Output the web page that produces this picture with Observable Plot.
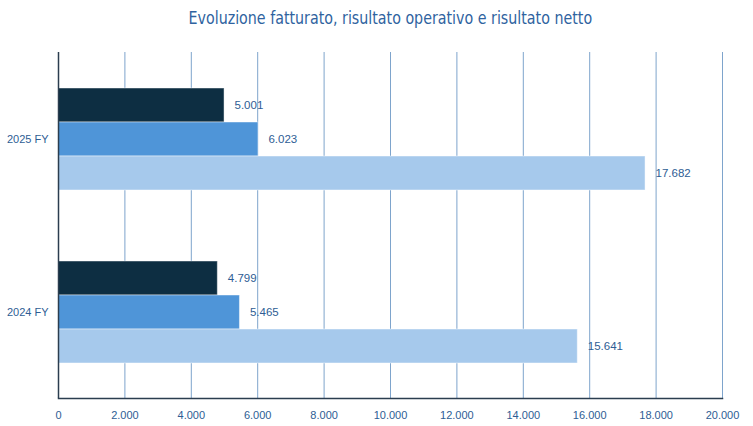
<!DOCTYPE html>
<html>
<head>
<meta charset="utf-8">
<script src="https://cdn.jsdelivr.net/npm/d3@7"></script>
<script src="https://cdn.jsdelivr.net/npm/@observablehq/plot@0.6"></script>
<style>
  html, body { margin: 0; padding: 0; background: #fff; }
  #title {
    box-sizing: border-box;
    width: 753px; height: 40px;
    padding: 8px 31px 0 58px;
    text-align: center;
    font-family: "Liberation Sans Narrow", "DejaVu Sans Condensed", "Liberation Sans", sans-serif;
    font-size: 18px; line-height: 20px;
    color: #2f63a0;
  }
  #title span { display: inline-block; transform: scaleX(0.88); transform-origin: center; }
  #chart svg { display: block; }
</style>
</head>
<body>
<div id="title"><span>Evoluzione fatturato, risultato operativo e risultato netto</span></div>
<div id="chart"></div>
<script>
const years = ["2025 FY", "2024 FY"];
const series = ["Risultato netto", "Risultato operativo", "Fatturato"];
const colors = ["#0d2e42", "#4f95d8", "#a6c9ec"];
const values2025 = [5001, 6023, 17682];
const values2024 = [4799, 5465, 15641];
const xTicks = [0, 2000, 4000, 6000, 8000, 10000, 12000, 14000, 16000, 18000, 20000];

const valuesByYear = {"2025 FY": values2025, "2024 FY": values2024};
const data = years.flatMap(y => series.map((s, i) => ({year: y, series: s, value: valuesByYear[y][i]})));

const it = d3.formatLocale({decimal: ",", thousands: ".", grouping: [3], currency: ["€", ""]});
const fmt = it.format(",d");
const labelColor = "#2e5d94";

const chart = Plot.plot({
  width: 753,
  height: 386,
  marginTop: 12,
  marginBottom: 28,
  marginLeft: 58,
  marginRight: 31,
  style: {fontFamily: "Liberation Sans, Arial, sans-serif", fontSize: "11px", color: labelColor, background: "#fff"},
  x: {domain: [0, 20000], ticks: xTicks, tickFormat: d => fmt(d), tickSize: 0, tickPadding: 13, label: null},
  fy: {domain: years, padding: 0, label: null, tickSize: 0, tickPadding: 10, axis: "left"},
  y: {domain: series, paddingInner: 0, paddingOuter: 1.03, axis: null},
  color: {domain: series, range: colors},
  marks: [
    Plot.ruleX(xTicks.slice(1), {stroke: "#7ea4cc", strokeWidth: 1}),
    Plot.barX(data, {fy: "year", y: "series", x: "value", fill: "series", stroke: "#ffffff", strokeOpacity: 0.45, strokeWidth: 1}),
    Plot.text(data, {fy: "year", y: "series", x: "value", text: d => fmt(d.value), dx: 10, textAnchor: "start", fill: labelColor, fontSize: 11.5}),
    Plot.ruleX([0], {stroke: "#2b3d4f", strokeWidth: 1.5}),
    Plot.frame({anchor: "bottom", fy: ["2024 FY"], stroke: "#2b3d4f", strokeWidth: 1.5})
  ]
});
document.getElementById("chart").appendChild(chart);
</script>
</body>
</html>
